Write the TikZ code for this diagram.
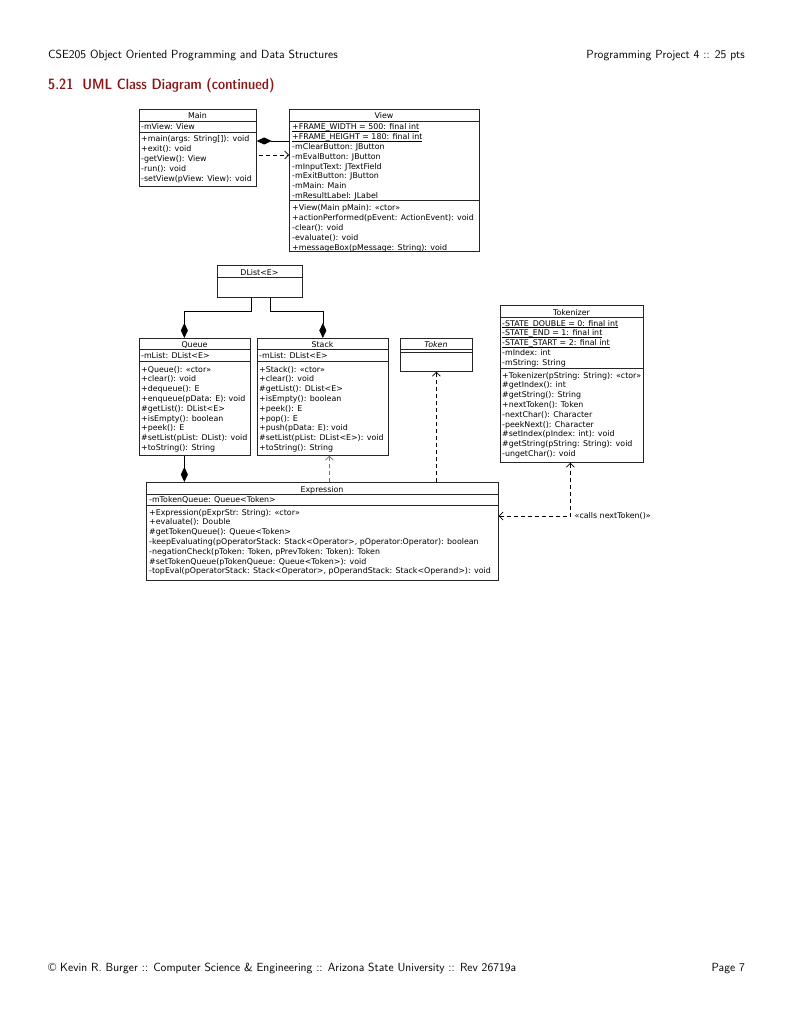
\documentclass[tikz,border=0pt]{standalone}
\usepackage{fontspec}
\newfontfamily\umlf{DejaVu Sans}
\newfontfamily\demicond{lmsansdemicond10-regular}[Extension=.otf]
\usetikzlibrary{arrows.meta}
\definecolor{asured}{RGB}{140,22,22}
\newcommand{\uf}{\umlf\fontsize{7.9}{9.8}\selectfont}
\newcommand{\mlines}[1]{\vtop{\uf\let\\\cr\halign{##\hfil\cr#1\crcr}}}
\newcommand{\uln}[1]{\setbox0=\hbox{#1}\rlap{\vrule height -1.2pt depth 1.8pt width \wd0}\box0}
\newcommand{\csep}[2]{\draw[sepline] ([yshift=-#2pt]#1.north west) -- ([yshift=-#2pt]#1.north east);}
\begin{document}
\begin{tikzpicture}[x=1pt,y=-1pt,
  classbox/.style={draw=black!85, line width=0.7pt, fill=white, inner sep=0pt, anchor=north west},
  umltext/.style={font=\uf, inner sep=0pt, anchor=base west},
  umltitle/.style={font=\uf, inner sep=0pt, anchor=base},
  sepline/.style={draw=black!85, line width=0.7pt},
  comp/.style={line width=0.7pt, -{Diamond[length=15pt,width=7pt]}},
  dep/.style={line width=0.7pt, dash pattern=on 4pt off 3pt, -{Straight Barb[length=4pt,width=8pt]}},
  hdr/.style={font=\sffamily\fontsize{11.8}{14}\selectfont, inner sep=0pt}
]
\fill[white] (0,0) rectangle (791,1024);
\useasboundingbox (0,0) rectangle (791,1024);

% header / footer
\node[hdr, anchor=base west] (hdrL) at (48,59) {CSE205 Object Oriented Programming and Data Structures};
\node[hdr, anchor=base east] (hdrR) at (745,59) {Programming Project 4 :: 25 pts};
\node[font=\demicond\fontsize{14.9}{18}\selectfont, text=asured, inner sep=0pt, anchor=base west] (title) at (48,90) {5.21\hspace{0.6em}UML Class Diagram (continued)};
\node[hdr, anchor=base west] (ftrL) at (48,971) {\textcopyright\ Kevin R. Burger :: Computer Science \& Engineering :: Arizona State University :: Rev 26719a};
\node[hdr, anchor=base east] (ftrR) at (745,971) {Page 7};

% Main
\node[classbox, minimum width=117pt, minimum height=77pt] (Main) at (139,109) {};
\node[umltitle] (MainT) at (197.5,119) {Main};
\csep{Main}{12}\csep{Main}{23}
\node[umltext] (MainA) at (141,130) {-mView: View};
\node[umltext] (MainO) at (141,142) {\mlines{+main(args: String[]): void\\+exit(): void\\-getView(): View\\-run(): void\\-setView(pView: View): void}};

% View
\node[classbox, minimum width=190pt, minimum height=142pt] (View) at (289,109) {};
\node[umltitle] (ViewT) at (384,119) {View};
\csep{View}{12}\csep{View}{91}
\node[umltext] (ViewA) at (292,130) {\mlines{\uln{+FRAME\_WIDTH = 500: final int}\\\uln{+FRAME\_HEIGHT = 180: final int}\\-mClearButton: JButton\\-mEvalButton: JButton\\-mInputText: JTextField\\-mExitButton: JButton\\-mMain: Main\\-mResultLabel: JLabel}};
\node[umltext] (ViewO) at (292,211) {\mlines{+View(Main pMain): «ctor»\\+actionPerformed(pEvent: ActionEvent): void\\-clear(): void\\-evaluate(): void\\+messageBox(pMessage: String): void}};

% DList
\node[classbox, minimum width=85pt, minimum height=32pt] (DList) at (217,265) {};
\node[umltitle] (DListT) at (259.5,275) {DList<E>};
\csep{DList}{12}

% Queue
\node[classbox, minimum width=111pt, minimum height=117pt] (Queue) at (139,338) {};
\node[umltitle] (QueueT) at (194.5,347) {Queue};
\csep{Queue}{11}\csep{Queue}{23}
\node[umltext] (QueueA) at (141,358) {-mList: DList<E>};
\node[umltext] (QueueO) at (141,372) {\mlines{+Queue(): «ctor»\\+clear(): void\\+dequeue(): E\\+enqueue(pData: E): void\\\#getList(): DList<E>\\+isEmpty(): boolean\\+peek(): E\\\#setList(pList: DList): void\\+toString(): String}};

% Stack
\node[classbox, minimum width=131pt, minimum height=117pt] (Stack) at (257,338) {};
\node[umltitle] (StackT) at (322.5,347) {Stack};
\csep{Stack}{11}\csep{Stack}{23}
\node[umltext] (StackA) at (259,358) {-mList: DList<E>};
\node[umltext] (StackO) at (259,372) {\mlines{+Stack(): «ctor»\\+clear(): void\\\#getList(): DList<E>\\+isEmpty(): boolean\\+peek(): E\\+pop(): E\\+push(pData: E): void\\\#setList(pList: DList<E>): void\\+toString(): String}};

% Token
\node[classbox, minimum width=72pt, minimum height=33pt] (Token) at (400,338) {};
\node[umltitle] (TokenT) at (436,347) {\itshape Token};
\csep{Token}{11}\csep{Token}{14}

% Tokenizer
\node[classbox, minimum width=143pt, minimum height=157pt] (Tokenizer) at (500,305) {};
\node[umltitle] (TokenizerT) at (571.5,315) {Tokenizer};
\csep{Tokenizer}{12}\csep{Tokenizer}{63}
\node[umltext] (TokenizerA) at (502,326) {\mlines{\uln{-STATE\_DOUBLE = 0: final int}\\\uln{-STATE\_END = 1: final int}\\\uln{-STATE\_START = 2: final int}\\-mIndex: int\\-mString: String}};
\node[umltext] (TokenizerO) at (502,378) {\mlines{+Tokenizer(pString: String): «ctor»\\\#getIndex(): int\\\#getString(): String\\+nextToken(): Token\\-nextChar(): Character\\-peekNext(): Character\\\#setIndex(pIndex: int): void\\\#getString(pString: String): void\\-ungetChar(): void}};

% Expression
\node[classbox, minimum width=352pt, minimum height=98pt] (Expression) at (146,482) {};
\node[umltitle] (ExpressionT) at (322,492) {Expression};
\csep{Expression}{12}\csep{Expression}{23}
\node[umltext] (ExpressionA) at (149,502) {-mTokenQueue: Queue<Token>};
\node[umltext] (ExpressionO) at (149,515) {\mlines{+Expression(pExprStr: String): «ctor»\\+evaluate(): Double\\\#getTokenQueue(): Queue<Token>\\-keepEvaluating(pOperatorStack: Stack<Operator>, pOperator:Operator): boolean\\-negationCheck(pToken: Token, pPrevToken: Token): Token\\\#setTokenQueue(pTokenQueue: Queue<Token>): void\\-topEval(pOperatorStack: Stack<Operator>, pOperandStack: Stack<Operand>): void}};

% connectors
\draw[line width=0.7pt, {Diamond[length=15pt,width=7pt]}-] ([yshift=-32pt]Main.north east) -- ([yshift=-32pt]Main.north east -| View.west);
\draw[dep] ([yshift=-46pt,xshift=2pt]Main.north east) -- ([yshift=-46pt]Main.north east -| View.west);
\draw[comp] ([xshift=-8.5pt]DList.south) -- ++(0,14) -| ([xshift=-10.5pt]Queue.north);
\draw[comp] ([xshift=10.5pt]DList.south) -- ++(0,14) -| (Stack.north);
\draw[comp] ([xshift=-10.5pt]Queue.south) -- ([xshift=-10.5pt]Queue.south |- Expression.north);
\draw[dep, draw=black!55] ([xshift=6.5pt]Stack.south |- Expression.north) -- ([xshift=6.5pt]Stack.south);
\draw[dep] (Token.south |- Expression.north) -- (Token.south);
\draw[dep, {Straight Barb[length=4pt,width=8pt]}-{Straight Barb[length=4pt,width=8pt]}] ([xshift=-1.5pt]Tokenizer.south) |- ([yshift=-34pt]Expression.north east)
  node[pos=0.5, anchor=west, xshift=4pt, font=\uf, inner sep=0pt] (callsLbl) {«calls nextToken()»};
\end{tikzpicture}
\end{document}
